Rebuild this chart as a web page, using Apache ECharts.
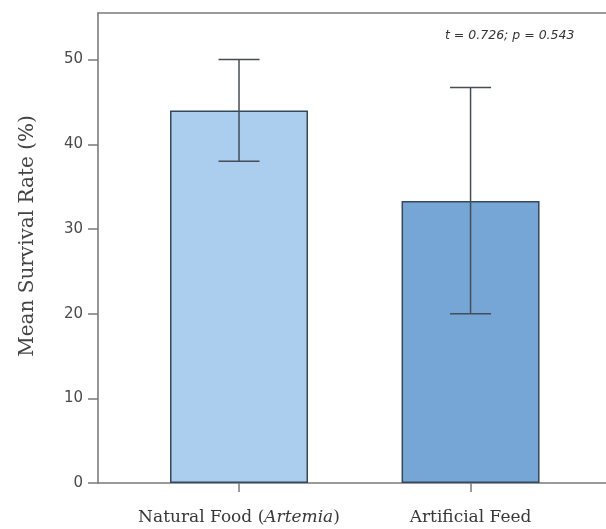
<!DOCTYPE html>
<html>
<head>
<meta charset="utf-8">
<script src="https://cdn.jsdelivr.net/npm/echarts@6/dist/echarts.min.js"></script>
<style>
html,body{margin:0;padding:0;background:#fff;}
#chart{width:606px;height:529px;}
</style>
</head>
<body>
<div id="chart"></div>
<script>
// ---- data ----
var categories = ['Natural Food (Artemia)', 'Artificial Feed'];
var meanValues = [44.0, 33.3];
var lowerValues = [38.0, 20.0];
var upperValues = [50.0, 46.7];
var yTicks = [0, 10, 20, 30, 40, 50];
var annotation = 't = 0.726; p = 0.543';

var barColors = ['#abcdee', '#76a6d6'];
var positions = categories.map(function (c, i) { return i + 1; });

var barData = meanValues.map(function (v, i) {
  return { value: [positions[i], v], itemStyle: { color: barColors[i] } };
});
var errData = meanValues.map(function (v, i) {
  return [positions[i], v, lowerValues[i], upperValues[i]];
});

var chart = echarts.init(document.getElementById('chart'), null, { renderer: 'canvas' });
var axisColor = '#7a7a7a';
var textColor = '#383838';

chart.setOption({
  backgroundColor: '#ffffff',
  animation: false,
  title: {
    text: annotation,
    left: 445,
    top: 29,
    padding: 0,
    textStyle: {
      fontFamily: 'DejaVu Sans',
      fontStyle: 'italic',
      fontWeight: 'normal',
      fontSize: 12.5,
      color: '#333'
    }
  },
  grid: { left: 98, right: 0, top: 13, bottom: 46 },
  xAxis: [{
    type: 'value',
    position: 'bottom',
    min: 0.391,
    max: 2.585,
    splitLine: { show: false },
    axisLine: { show: true, lineStyle: { color: axisColor, width: 1.6 } },
    axisTick: { show: true, length: 9, customValues: positions, lineStyle: { color: axisColor, width: 1.5 } },
    axisLabel: {
      customValues: positions,
      margin: 26,
      formatter: function (v) {
        var name = categories[Math.round(v) - 1] || '';
        if (name.indexOf('(Artemia)') >= 0) {
          return '{n|Natural Food (}{i|Artemia}{n|)}';
        }
        return '{n|' + name + '}';
      },
      rich: {
        n: { fontFamily: 'DejaVu Serif', fontSize: 17, color: textColor },
        i: { fontFamily: 'DejaVu Serif', fontSize: 17, fontStyle: 'italic', color: textColor }
      }
    }
  }, {
    type: 'value',
    position: 'top',
    min: 0.391,
    max: 2.585,
    splitLine: { show: false },
    axisLine: { show: true, lineStyle: { color: axisColor, width: 1.6 } },
    axisTick: { show: false },
    axisLabel: { show: false }
  }],
  yAxis: {
    type: 'value',
    min: 0,
    max: 55.5,
    name: 'Mean Survival Rate (%)',
    nameLocation: 'middle',
    nameGap: 60,
    nameTextStyle: {
      fontFamily: 'DejaVu Serif',
      fontSize: 20,
      color: '#444',
      padding: [0, 0, 0, 24]
    },
    splitLine: { show: false },
    axisLine: { show: true, lineStyle: { color: axisColor, width: 1.6 } },
    axisTick: { show: true, length: 10, customValues: yTicks, lineStyle: { color: axisColor, width: 1.5 } },
    axisLabel: {
      customValues: yTicks,
      margin: 15,
      fontFamily: 'DejaVu Sans',
      fontSize: 15,
      color: '#4a4a4a'
    }
  },
  series: [{
    type: 'bar',
    xAxisIndex: 0,
    barWidth: 138,
    data: barData,
    itemStyle: { borderColor: '#34495c', borderWidth: 1.5 },
    z: 2
  }, {
    type: 'custom',
    xAxisIndex: 0,
    data: errData,
    z: 3,
    renderItem: function (params, api) {
      var x = api.value(0);
      var lo = api.coord([x, api.value(2)]);
      var hi = api.coord([x, api.value(3)]);
      var half = 20.5;
      var style = { stroke: '#454d55', lineWidth: 1.5 };
      return {
        type: 'group',
        children: [
          { type: 'line', shape: { x1: lo[0], y1: lo[1], x2: hi[0], y2: hi[1] }, style: style },
          { type: 'line', shape: { x1: hi[0] - half, y1: hi[1], x2: hi[0] + half, y2: hi[1] }, style: style },
          { type: 'line', shape: { x1: lo[0] - half, y1: lo[1], x2: lo[0] + half, y2: lo[1] }, style: style }
        ]
      };
    }
  }]
});
</script>
</body>
</html>
